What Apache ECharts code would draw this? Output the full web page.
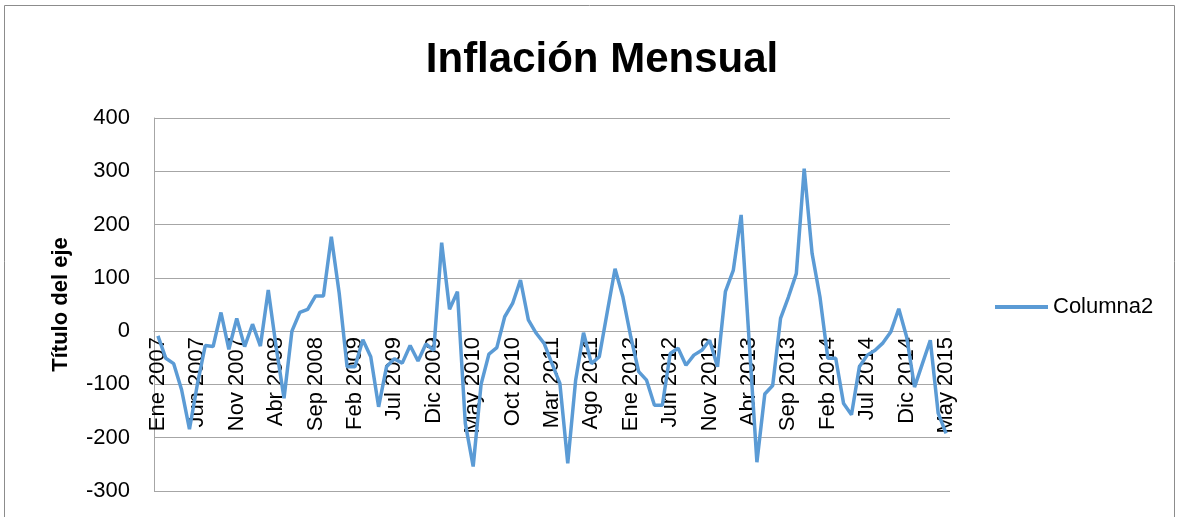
<!DOCTYPE html>
<html>
<head>
<meta charset="utf-8">
<script src="https://cdn.jsdelivr.net/npm/echarts@6/dist/echarts.min.js"></script>
<style>
  html, body { margin: 0; padding: 0; background: #fff; }
  #chart { width: 1179px; height: 517px; }
</style>
</head>
<body>
<div id="chart"></div>
<script>
// month abbreviations and years used for the category labels
const meses = ["Ene", "Feb", "Mar", "Abr", "May", "Jun", "Jul", "Ago", "Sep", "Oct", "Nov", "Dic"];
const anios = [2007, 2008, 2009, 2010, 2011, 2012, 2013, 2014, 2015];
const ultimoMes2015 = 5;

// Columna2, one value per month, Ene 2007 .. May 2015
const columna2 = [
  -9, -51, -61, -110, -184, -100, -27, -29, 35, -34, 24, -29,
  13, -28, 77, -30, -126, 0, 35, 41, 66, 66, 177, 71,
  -67, -67, -16, -48, -142, -67, -52, -60, -27, -56, -24, -36,
  166, 41, 74, -173, -254, -100, -43, -31, 27, 52, 96, 21,
  -4, -23, -61, -98, -248, -92, -3, -61, -48, 35, 117, 64,
  -11, -76, -92, -139, -139, -42, -32, -64, -45, -36, -17, -67,
  74, 114, 218, -15, -246, -118, -102, 24, 64, 108, 305, 146,
  64, -51, -51, -136, -157, -67, -45, -36, -22, -1, 42, -11,
  -105, -61, -17, -154, -192
];

const yTicks = { min: -300, max: 400, step: 100 };

const categorias = [];
anios.forEach(a => {
  meses.forEach((m, i) => {
    if (a < 2015 || i < ultimoMes2015) categorias.push(m + " " + a);
  });
});

const chart = echarts.init(document.getElementById("chart"));
chart.setOption({
  animation: false,
  textStyle: { fontFamily: "Liberation Sans" },
  title: {
    text: "Inflación Mensual",
    left: 597,
    textAlign: "center",
    top: 34,
    textStyle: { fontSize: 42, fontWeight: "bold", color: "#000", fontFamily: "Liberation Sans" }
  },
  graphic: [{
    type: "rect",
    shape: { x: 4.5, y: 5.5, width: 1170, height: 530 },
    style: { fill: "none", stroke: "#8c8c8c", lineWidth: 1 },
    silent: true
  }],
  legend: {
    data: ["Columna2"],
    left: 990,
    top: 291,
    icon: "rect",
    itemWidth: 53,
    itemHeight: 4,
    itemGap: 5,
    textStyle: { fontSize: 22, color: "#000" }
  },
  grid: { left: 154, right: 229, top: 118, bottom: 26, outerBoundsMode: "none" },
  xAxis: {
    type: "category",
    data: categorias,
    boundaryGap: true,
    // the category axis crosses the value axis at 0 (160px above the bottom)
    offset: -160,
    axisLine: { onZero: false, lineStyle: { color: "#a6a6a6" } },
    axisTick: { show: false },
    axisLabel: {
      interval: 4,
      rotate: 90,
      margin: 6,
      fontSize: 22,
      color: "#000"
    }
  },
  yAxis: {
    type: "value",
    min: yTicks.min,
    max: yTicks.max,
    interval: yTicks.step,
    name: "Título del eje",
    nameLocation: "middle",
    nameGap: 82,
    nameTextStyle: { fontSize: 22, fontWeight: "bold", color: "#000" },
    axisLine: { show: true, lineStyle: { color: "#a6a6a6" } },
    axisTick: { show: false },
    axisLabel: { fontSize: 22, color: "#000", margin: 24 },
    splitLine: { lineStyle: { color: "#a6a6a6", width: 1 } }
  },
  series: [{
    name: "Columna2",
    type: "line",
    data: columna2,
    z: 10,
    showSymbol: false,
    symbol: "none",
    lineStyle: { color: "#5b9bd5", width: 3.5 },
    itemStyle: { color: "#5b9bd5" }
  }]
});
</script>
</body>
</html>
